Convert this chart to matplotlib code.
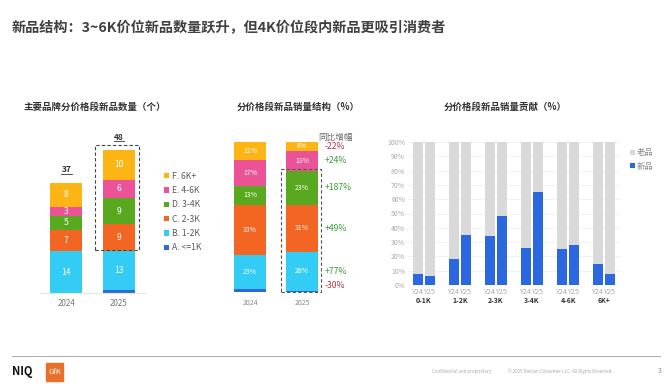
import matplotlib.pyplot as plt
import numpy as np
from matplotlib.patches import Rectangle, Patch

plt.rcParams['font.family'] = ['Noto Sans CJK SC', 'DejaVu Sans']

# data
segments = ["A. <=1K", "B. 1-2K", "C. 2-3K", "D. 3-4K", "E. 4-6K", "F. 6K+"]
seg_colors = ["#2E6BD6", "#33CCF5", "#F26522", "#58A920", "#EC5396", "#FDB515"]
years = ["2024", "2025"]

count_2024 = [0, 14, 7, 5, 3, 8]
count_2025 = [1, 13, 9, 9, 6, 10]

share_2024 = [2, 23, 33, 13, 17, 12]
share_2025 = [1, 26, 31, 23, 13, 6]
growth = ["-30%", "+77%", "+49%", "+187%", "+24%", "-22%"]

price_groups = ["0-1K", "1-2K", "2-3K", "3-4K", "4-6K", "6K+"]
new_y24 = [7.5, 18, 34, 26, 25, 15]
new_y25 = [6.5, 35, 48, 65, 28, 8]

W, H = 672, 387
fig = plt.figure(figsize=(W / 100, H / 100), dpi=100)


def box(x0, y0, x1, y1):
    # pixel box (top-left origin) -> figure coords
    return [x0 / W, 1 - y1 / H, (x1 - x0) / W, (y1 - y0) / H]


# title
fig.text(12 / W, 1 - 28 / H, "新品结构：3~6K价位新品数量跃升，但4K价位段内新品更吸引消费者",
         fontsize=10.2, fontweight="bold", color="#404040", va="center")

# ---------------- left chart: counts ----------------
fig.text(24 / W, 1 - 107 / H, "主要品牌分价格段新品数量（个）", fontsize=6.8,
         fontweight="bold", color="#333333", va="center")
ax1 = fig.add_axes(box(40, 138, 145, 293))
x = np.arange(2)
bottom = np.zeros(2)
for i, name in enumerate(segments):
    vals = np.array([count_2024[i], count_2025[i]])
    ax1.bar(x, vals, bottom=bottom, width=0.61, color=seg_colors[i], label=name)
    for j in range(2):
        if vals[j] >= 3:
            ax1.text(x[j], bottom[j] + vals[j] / 2, str(vals[j]), ha="center", va="center",
                     color="white", fontsize=6.2)
    bottom += vals
for j in range(2):
    ax1.text(x[j], bottom[j] + 4.3, str(int(bottom[j])), ha="center", va="center",
             fontsize=6, fontweight="bold", color="#333333")
    ax1.plot([x[j] - 0.1, x[j] + 0.1], [bottom[j] + 3.0] * 2, color="#333333", lw=0.6)
ax1.add_patch(Rectangle((0.55, 14.5), 0.84, 35.3, fill=False, ls=(0, (3, 2)),
                        ec="#444444", lw=0.8, clip_on=False))
ax1.set_xlim(-0.5, 1.5)
ax1.set_ylim(0, 52)
ax1.set_xticks(x)
ax1.set_xticklabels(years, fontsize=5.8, color="#777777")
ax1.tick_params(axis="x", length=0, pad=4)
ax1.set_yticks([])
for s in ["top", "right", "left"]:
    ax1.spines[s].set_visible(False)
ax1.spines["bottom"].set_color("#E6E6E6")
h, l = ax1.get_legend_handles_labels()
fig.legend(h[::-1], l[::-1], loc="upper left", bbox_to_anchor=(156 / W, 1 - 164 / H),
           frameon=False, fontsize=6.2, handlelength=0.6, handleheight=0.6,
           handletextpad=0.3, labelspacing=0.62, labelcolor="#595959")

# ---------------- middle chart: share ----------------
fig.text(237 / W, 1 - 107 / H, "分价格段新品销量结构（%）", fontsize=6.8,
         fontweight="bold", color="#333333", va="center")
ax2 = fig.add_axes(box(224, 142, 328, 292))
bottom = np.zeros(2)
for i in range(len(segments)):
    vals = np.array([share_2024[i], share_2025[i]])
    ax2.bar(x, vals, bottom=bottom, width=0.615, color=seg_colors[i])
    for j in range(2):
        if vals[j] >= 5:
            ax2.text(x[j], bottom[j] + vals[j] / 2, f"{vals[j]}%", ha="center", va="center",
                     color="white", fontsize=5)
    gy = max(bottom[1] + vals[1] / 2, 4)
    gcol = "#B03040" if growth[i].startswith("-") else "#3A9A3A"
    ax2.text(1.43, gy, growth[i], ha="left", va="center", color=gcol, fontsize=6.2,
             clip_on=False)
    bottom += vals
ax2.text(1.31, 103, "同比增幅", ha="left", va="center", color="#666666", fontsize=6.2)
ax2.add_patch(Rectangle((0.6, 0), 0.77, 82, fill=False, ls=(0, (3, 2)),
                        ec="#555555", lw=0.8, clip_on=False))
ax2.set_xlim(-0.5, 1.5)
ax2.set_ylim(0, 100)
ax2.set_xticks(x)
ax2.set_xticklabels(years, fontsize=5, color="#888888")
ax2.tick_params(axis="x", length=0, pad=5)
ax2.set_yticks([])
for s in ["top", "right", "left", "bottom"]:
    ax2.spines[s].set_visible(False)

# ---------------- right chart: contribution ----------------
fig.text(505 / W, 1 - 107 / H, "分价格段新品销量贡献（%）", fontsize=6.8,
         fontweight="bold", color="#333333", va="center", ha="center")
ax3 = fig.add_axes(box(408, 142, 620, 285))
g = np.arange(len(price_groups))
off = 0.167
bw = 0.264
ax3.bar(g - off, [100] * len(g), width=bw, color="#D9D9D9", label="老品", zorder=2)
ax3.bar(g + off, [100] * len(g), width=bw, color="#D9D9D9", zorder=2)
ax3.bar(g - off, new_y24, width=bw, color="#2B67E0", label="新品", zorder=3)
ax3.bar(g + off, new_y25, width=bw, color="#2B67E0", zorder=3)
ax3.set_xlim(-0.44, 5.44)
ax3.set_ylim(0, 100)
ax3.set_yticks(np.arange(0, 101, 10))
ax3.set_yticklabels([f"{v}%" for v in range(0, 101, 10)], fontsize=5, color="#AAAAAA")
ax3.yaxis.grid(True, color="#F0F0F0", lw=0.6, zorder=0)
ax3.set_xticks(np.concatenate([g - off, g + off]))
ax3.set_xticklabels(["Y24"] * len(g) + ["Y25"] * len(g), fontsize=5.2, color="#AAAAAA")
ax3.tick_params(length=0, pad=2)
for i, name in enumerate(price_groups):
    ax3.text(g[i], -11, name, ha="center", va="center", fontsize=5, fontweight="bold",
             color="#333333", transform=ax3.transData, clip_on=False)
for s in ["top", "right", "left", "bottom"]:
    ax3.spines[s].set_visible(False)
ax3.legend(loc="upper left", bbox_to_anchor=(622 / W, 1 - 141 / H),
           bbox_transform=fig.transFigure, frameon=False, fontsize=6,
           handlelength=0.6, handleheight=0.6, handletextpad=0.3, labelspacing=0.5,
           labelcolor="#888888")

# ---------------- footer ----------------
fig.add_artist(plt.Line2D([12 / W, 660 / W], [1 - 356 / H] * 2, color="#AAAAAA", lw=0.7))
fig.text(12 / W, 1 - 372 / H, "NIQ", fontsize=8, fontweight="bold", color="#111111", va="center")
fig.add_artist(Rectangle((46 / W, 1 - 381 / H), 17 / W, 18 / H, color="#E8702A",
                         transform=fig.transFigure))
fig.text(54.5 / W, 1 - 372 / H, "GfK", fontsize=5.5, color="white", va="center", ha="center",
         style="italic")
fig.text(432 / W, 1 - 371 / H, "Confidential and proprietary", fontsize=3.2,
         color="#AAAAAA", va="center")
fig.text(508 / W, 1 - 371 / H, "© 2025 Nielsen Consumer LLC. All Rights Reserved.",
         fontsize=3.2, color="#AAAAAA", va="center")
fig.text(662 / W, 1 - 371 / H, "3", fontsize=5, color="#888888", va="center", ha="right")

fig.savefig("out.png", dpi=100)
